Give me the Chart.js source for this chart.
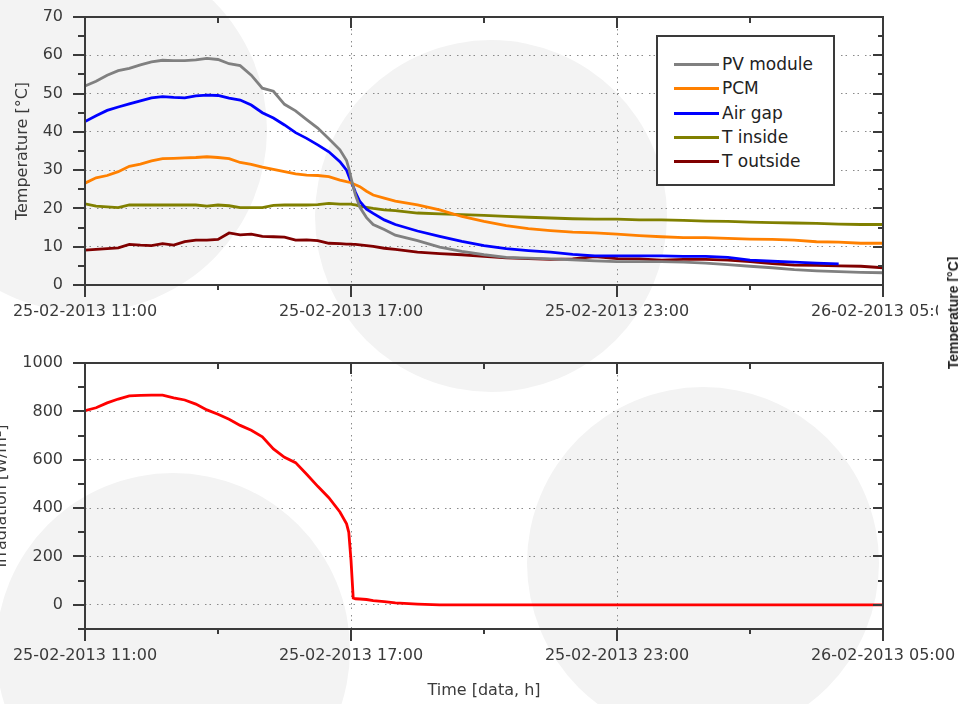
<!DOCTYPE html>
<html>
<head>
<meta charset="utf-8">
<script src="https://cdn.jsdelivr.net/npm/chart.js@4.4.1/dist/chart.umd.min.js"></script>
<style>
  html, body { margin: 0; padding: 0; background: #fff; }
  body { width: 958px; height: 704px; position: relative; overflow: hidden; font-family: "DejaVu Sans", sans-serif; }
  .blob { position: absolute; border-radius: 50%; background: #f3f3f3; }
  #topWrap { position: absolute; left: 0; top: 0; width: 938px; height: 335px; }
  #bottomWrap { position: absolute; left: -22px; top: 340px; width: 980px; height: 364px; }
  #legend { position: absolute; left: 656px; top: 35px; width: 175px; height: 147px;
            border: 2px solid #3a3a3a; background: #fff; }
  .row { position: absolute; left: 16px; height: 20px; font-size: 17px; color: #222; white-space: nowrap; }
  .row span.swatch { position: absolute; left: 0; top: 9px; width: 45px; height: 3px; }
  .row span.lbl { position: absolute; left: 48px; top: 0; line-height: 20px; }
  #sideTitle { position: absolute; left: 953px; top: 313px; transform: translate(-50%, -50%) rotate(-90deg);
               font: bold 14px "Liberation Sans", Arial, sans-serif; color: #222; white-space: nowrap; }
</style>
</head>
<body>
<div class="blob" style="left:-97px; top:-52px; width:364px; height:364px;"></div>
<div class="blob" style="left:315px; top:40px; width:352px; height:352px;"></div>
<div class="blob" style="left:-4px; top:473px; width:354px; height:354px;"></div>
<div class="blob" style="left:527px; top:387px; width:352px; height:352px;"></div>

<div id="topWrap"><canvas id="tempChart" width="938" height="335"></canvas></div>
<div id="bottomWrap"><canvas id="irrChart" width="980" height="364"></canvas></div>
<div id="legend"></div>
<div id="sideTitle">Temperature [°C]</div>

<script>
// hours after 25-02-2013 11:00
const hours = [0, 0.25, 0.5, 0.75, 1, 1.25, 1.5, 1.75, 2, 2.25, 2.5, 2.75, 3, 3.25, 3.5, 3.75,
  4, 4.25, 4.5, 4.75, 5, 5.25, 5.5, 5.75, 5.9, 5.95, 6, 6.05, 6.1, 6.2, 6.35, 6.5, 6.75, 7, 7.5,
  8, 8.5, 9, 9.5, 10, 10.5, 11, 11.5, 12, 12.5, 13, 13.5, 14, 14.5, 15, 15.5, 16, 16.5, 17, 17.5, 18];

const pvModule = [52.0, 53.2, 54.8, 56.0, 56.6, 57.5, 58.3, 58.7, 58.6, 58.6, 58.8, 59.2, 58.9, 57.8, 57.3, 54.8,
  51.4, 50.6, 47.2, 45.5, 43.2, 41.0, 38.2, 35.3, 32.5, 30.5, 28.0, 25.7, 23.5, 20.3, 17.6, 15.8, 14.5, 13.0, 11.6,
  9.9, 8.8, 7.9, 7.2, 7.0, 6.8, 6.6, 6.3, 6.1, 6.1, 6.1, 6.0, 5.7, 5.3, 4.9, 4.5, 4.0, 3.7, 3.5, 3.3, 3.2];

const pcm = [26.6, 28.0, 28.6, 29.6, 31.0, 31.6, 32.4, 33.0, 33.1, 33.2, 33.3, 33.5, 33.3, 33.0, 32.0, 31.5,
  30.8, 30.2, 29.6, 29.0, 28.7, 28.6, 28.3, 27.4, 27.0, 26.9, 26.7, 26.4, 26.2, 25.7, 24.5, 23.5, 22.7, 21.9, 20.9,
  19.6, 17.9, 16.6, 15.5, 14.7, 14.2, 13.8, 13.6, 13.3, 12.9, 12.6, 12.4, 12.4, 12.2, 12.0, 11.9, 11.7, 11.3, 11.2, 10.9, 10.9];

const airGap = [42.7, 44.2, 45.6, 46.5, 47.3, 48.1, 48.9, 49.2, 49.0, 48.9, 49.4, 49.6, 49.5, 48.8, 48.3, 47.0,
  45.0, 43.6, 41.8, 39.8, 38.3, 36.6, 34.8, 32.2, 30.0, 28.5, 27.0, 25.7, 24.2, 21.8, 19.8, 18.7, 17.0, 15.8, 14.1,
  12.7, 11.4, 10.3, 9.5, 9.0, 8.6, 8.0, 7.6, 7.6, 7.6, 7.6, 7.5, 7.5, 7.2, 6.5, 6.2, 6.0, 5.7, 5.5, null, null];

const tInside = [21.2, 20.6, 20.4, 20.2, 20.9, 20.9, 20.9, 20.9, 20.9, 20.9, 20.9, 20.6, 20.9, 20.7, 20.2, 20.2,
  20.2, 20.8, 20.9, 20.9, 20.9, 21.0, 21.3, 21.1, 21.1, 21.1, 21.1, 21.0, 20.9, 20.6, 20.3, 20.0, 19.6, 19.4, 18.8,
  18.6, 18.4, 18.2, 17.9, 17.7, 17.5, 17.3, 17.2, 17.2, 17.0, 17.0, 16.9, 16.7, 16.6, 16.4, 16.3, 16.2, 16.1, 15.9, 15.8, 15.8];

const tOutside = [9.1, 9.3, 9.5, 9.7, 10.6, 10.4, 10.3, 10.8, 10.4, 11.3, 11.7, 11.7, 11.9, 13.6, 13.1, 13.3,
  12.7, 12.6, 12.5, 11.7, 11.8, 11.6, 10.9, 10.8, 10.7, 10.7, 10.7, 10.6, 10.6, 10.5, 10.3, 10.1, 9.6, 9.3, 8.6,
  8.2, 7.9, 7.5, 7.1, 6.9, 6.7, 6.8, 7.4, 6.9, 6.8, 6.5, 6.7, 6.7, 6.5, 6.1, 5.6, 5.2, 5.1, 5.0, 4.9, 4.5];

const irradiation = [803, 815, 835, 851, 864, 866, 867, 867, 856, 847, 830, 806, 788, 767, 742, 722,
  695, 645, 610, 588, 540, 490, 443, 384, 335, 300, 185, 28, 25, 24, 22, 17, 13, 8, 3,
  0, 0, 0, 0, 0, 0, 0, 0, 0, 0, 0, 0, 0, 0, 0, 0, 0, 0, 0, 0, 0];

const seriesNames = ['PV module', 'PCM', 'Air gap', 'T inside', 'T outside'];
const seriesColors = ['#808080', '#ff8000', '#0000ff', '#808000', '#800000'];
const seriesValues = [pvModule, pcm, airGap, tInside, tOutside];

const xTickValues = [0, 6, 12, 18];
const xTickLabels = ['25-02-2013 11:00', '25-02-2013 17:00', '25-02-2013 23:00', '26-02-2013 05:00'];
const xMinorValues = [3, 9, 15];
const tempTicks = [0, 10, 20, 30, 40, 50, 60, 70];
const tempMinor = [5, 15, 25, 35, 45, 55, 65];
const irrTicks = [0, 200, 400, 600, 800, 1000];
const irrMinor = [-100, 100, 300, 500, 700, 900];

const FONT = { family: '"DejaVu Sans", sans-serif', size: 16 };
const TEXT = '#3a3a3a';
const FRAME = '#3a3a3a';

// frame + tick marks (left/bottom outside, right/top inside)
const frameTicks = {
  id: 'frameTicks',
  afterDatasetsDraw(chart, args, opts) {
    const { ctx, chartArea: a, scales: { x, y } } = chart;
    ctx.save();
    ctx.strokeStyle = FRAME;
    ctx.lineWidth = 2;
    ctx.strokeRect(a.left, a.top, a.right - a.left, a.bottom - a.top);
    ctx.beginPath();
    opts.yMajor.forEach(v => {
      const py = Math.round(y.getPixelForValue(v));
      ctx.moveTo(a.left - 12, py); ctx.lineTo(a.left, py);
      ctx.moveTo(a.right - 10, py); ctx.lineTo(a.right, py);
    });
    opts.yMinor.forEach(v => {
      const py = Math.round(y.getPixelForValue(v));
      ctx.moveTo(a.left - 7, py); ctx.lineTo(a.left, py);
      ctx.moveTo(a.right - 5, py); ctx.lineTo(a.right, py);
    });
    xTickValues.forEach(v => {
      const px = Math.round(x.getPixelForValue(v));
      ctx.moveTo(px, a.bottom); ctx.lineTo(px, a.bottom + 12);
      ctx.moveTo(px, a.top); ctx.lineTo(px, a.top + 11);
    });
    xMinorValues.forEach(v => {
      const px = Math.round(x.getPixelForValue(v));
      ctx.moveTo(px, a.bottom); ctx.lineTo(px, a.bottom + 5);
      ctx.moveTo(px, a.top); ctx.lineTo(px, a.top + 6);
    });
    ctx.stroke();
    ctx.restore();
  }
};

function xScale(title) {
  return {
    type: 'linear', min: 0, max: 18,
    afterBuildTicks: s => { s.ticks = xTickValues.map(v => ({ value: v })); },
    afterFit: s => { s.height = title ? 75 : 50; s.paddingLeft = 0; s.paddingRight = 0; },
    ticks: {
      autoSkip: false, maxRotation: 0, padding: 17, color: TEXT, font: FONT,
      callback: v => xTickLabels[xTickValues.indexOf(v)]
    },
    grid: {
      drawTicks: false,
      color: c => (c.tick && (c.tick.value === 6 || c.tick.value === 12)) ? '#8a8a8a' : 'rgba(0,0,0,0)'
    },
    border: { display: false, dash: [1.5, 3, 1.5, 6] },
    title: title ? { display: true, text: title, color: TEXT, font: FONT, padding: { top: 0, bottom: 4 } } : { display: false }
  };
}

function yScale(min, max, ticks, title, width, titlePad) {
  return {
    min, max,
    afterBuildTicks: s => { s.ticks = ticks.map(v => ({ value: v })); },
    afterFit: s => { s.width = width; s.paddingTop = 0; s.paddingBottom = 0; },
    ticks: { padding: 22, color: TEXT, font: FONT, callback: v => String(v) },
    grid: {
      drawTicks: false,
      color: c => (c.tick && c.tick.value !== min && c.tick.value !== max) ? '#8a8a8a' : 'rgba(0,0,0,0)'
    },
    border: { display: false, dash: [1.5, 3, 1.5, 6] },
    title: { display: true, text: title, color: TEXT, font: FONT, padding: { top: titlePad, bottom: 0 } }
  };
}

new Chart(document.getElementById('tempChart'), {
  type: 'line',
  data: {
    labels: hours,
    datasets: seriesNames.map((name, i) => ({
      label: name,
      data: seriesValues[i],
      borderColor: seriesColors[i],
      borderWidth: 2.8,
      pointRadius: 0,
      tension: 0,
      spanGaps: false
    }))
  },
  options: {
    responsive: false,
    animation: false,
    layout: { padding: { top: 17, right: 55, bottom: 0, left: 0 } },
    plugins: { legend: { display: false }, tooltip: { enabled: false },
      frameTicks: { yMajor: tempTicks, yMinor: tempMinor } },
    scales: {
      x: xScale(null),
      y: yScale(0, 70, tempTicks, 'Temperature [°C]', 85, 13)
    }
  },
  plugins: [frameTicks]
});

new Chart(document.getElementById('irrChart'), {
  type: 'line',
  data: {
    labels: hours,
    datasets: [{
      label: 'Irradiation',
      data: irradiation,
      borderColor: '#ff0000',
      borderWidth: 2.8,
      pointRadius: 0,
      tension: 0
    }]
  },
  options: {
    responsive: false,
    animation: false,
    layout: { padding: { top: 23, right: 75, bottom: 0, left: 0 } },
    plugins: { legend: { display: false }, tooltip: { enabled: false },
      frameTicks: { yMajor: irrTicks, yMinor: irrMinor } },
    scales: {
      x: xScale('Time [data, h]'),
      y: yScale(-100, 1000, irrTicks, 'Irradiation [W/m²]', 107, 14)
    }
  },
  plugins: [frameTicks]
});

// legend box
const legend = document.getElementById('legend');
seriesNames.forEach((name, i) => {
  const row = document.createElement('div');
  row.className = 'row';
  row.style.top = (17 + i * 24.3) + 'px';
  row.innerHTML = `<span class="swatch" style="background:${seriesColors[i]}"></span><span class="lbl">${name}</span>`;
  legend.appendChild(row);
});
</script>
</body>
</html>
